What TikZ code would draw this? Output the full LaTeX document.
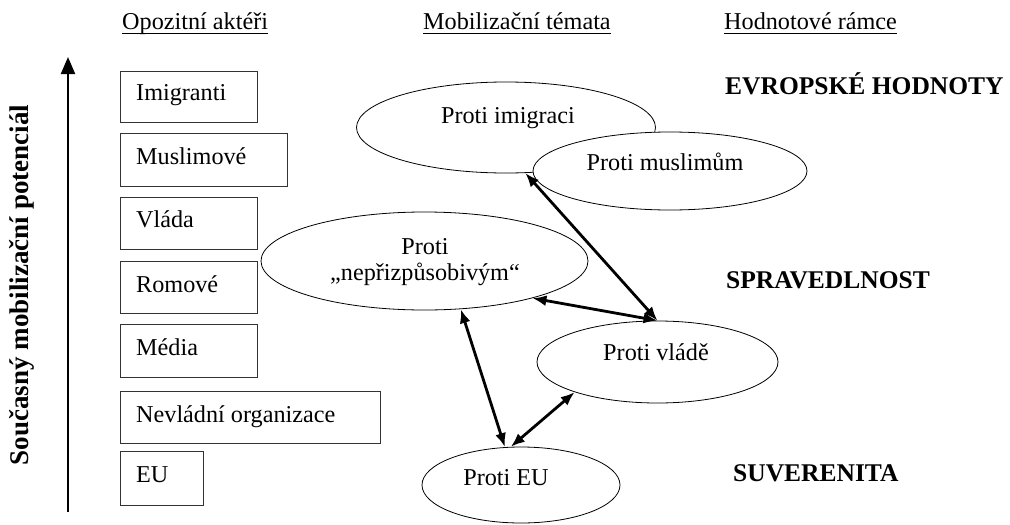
\documentclass[tikz,border=0pt]{standalone}
\usepackage{fontspec}
\setmainfont{Liberation Serif}
\newfontfamily\myserif{Liberation Serif}
\usetikzlibrary{shapes.geometric,arrows.meta}
\begin{document}
\begin{tikzpicture}[x=1pt,y=-1pt,
  txt/.style={inner sep=0pt,anchor=base west,font=\myserif\fontsize{24.2}{29}\selectfont},
  ctxt/.style={inner sep=0pt,anchor=base,font=\myserif\fontsize{24.2}{29}\selectfont},
  frame/.style={inner sep=0pt,font=\myserif\fontsize{25.5}{30}\selectfont\bfseries,anchor=base west},
  actor/.style={draw=black!80,line width=1.2pt,inner sep=0pt,anchor=north west},
  theme/.style={ellipse,draw=black,line width=0.8pt,fill=white,inner sep=0pt},
  link/.style={line width=2.8pt,{Latex[length=14pt,width=11pt]}-{Latex[length=14pt,width=11pt]}},
  axis/.style={line width=2pt,-{Triangle[length=17pt,width=14pt]}},
  uline/.style={line width=1.1pt}]
\useasboundingbox (0,0) rectangle (1010,525);

% headers
\node[txt] (h1) at (122,29) {Opozitní aktéři};
\node[txt] (h2) at (423,29) {Mobilizační témata};
\node[txt] (h3) at (724,29) {Hodnotové rámce};
\draw[uline] ([yshift=-4.5pt]h1.base west) -- ([yshift=-4.5pt]h1.base east);
\draw[uline] ([yshift=-4.5pt]h2.base west) -- ([yshift=-4.5pt]h2.base east);
\draw[uline] ([yshift=-4.5pt]h3.base west) -- ([yshift=-4.5pt]h3.base east);

% vertical axis
\coordinate (ax0) at (68,512);
\coordinate (ax1) at (68,57);
\draw[axis] (ax0) -- (ax1);
\node[inner sep=0pt,rotate=90,font=\myserif\fontsize{27}{32}\selectfont\bfseries] (axl) at (22,285) {Současný mobilizační potenciál};

% actor boxes
\node[actor,minimum width=137pt,minimum height=51pt] (b1) at (120,71) {};
\node[txt] (t1) at (136,100) {Imigranti};
\node[actor,minimum width=167pt,minimum height=53pt] (b2) at (120,133) {};
\node[txt] (t2) at (136,164) {Muslimové};
\node[actor,minimum width=137pt,minimum height=52pt] (b3) at (120,197) {};
\node[txt] (t3) at (136,227) {Vláda};
\node[actor,minimum width=137pt,minimum height=52pt] (b4) at (120,261) {};
\node[txt] (t4) at (136,292) {Romové};
\node[actor,minimum width=137pt,minimum height=53pt] (b5) at (120,324) {};
\node[txt] (t5) at (136,355) {Média};
\node[actor,minimum width=260pt,minimum height=52pt] (b6) at (120,391) {};
\node[txt] (t6) at (136,422) {Nevládní organizace};
\node[actor,minimum width=83pt,minimum height=54pt] (b7) at (120,451) {};
\node[txt] (t7) at (136,482) {EU};

% value frames
\node[frame] (f1) at (725,94) {EVROPSKÉ HODNOTY};
\node[frame] (f2) at (726,288) {SPRAVEDLNOST};
\node[frame] (f3) at (733,481) {SUVERENITA};

% themes
\node[theme,minimum width=299pt,minimum height=91pt] (imm) at (506,127.5) {};
\node[ctxt] (timm) at (508,123) {Proti imigraci};
\node[theme,minimum width=274pt,minimum height=78pt] (mus) at (670,171) {};
\node[ctxt] (tmus) at (665,170) {Proti muslimům};
\node[theme,minimum width=327pt,minimum height=98pt] (nep) at (424.5,261) {};
\node[ctxt] (tnep1) at (425,254) {Proti};
\node[ctxt] (tnep2) at (425,280) {„nepřizpůsobivým“};
\node[theme,minimum width=241pt,minimum height=82pt] (vla) at (657.5,362) {};
\node[ctxt] (tvla) at (656,360) {Proti vládě};
\node[theme,minimum width=198pt,minimum height=76pt] (eu) at (521,485) {};
\node[ctxt] (teu) at (506,485) {Proti EU};

% links
\draw[link] (vla.north) -- (imm.-67);
\draw[link] (vla.north) -- (nep.-19);
\draw[link] (nep.-53) -- (eu.113);
\draw[link] (eu.105) -- (vla.200);
\end{tikzpicture}
\end{document}
